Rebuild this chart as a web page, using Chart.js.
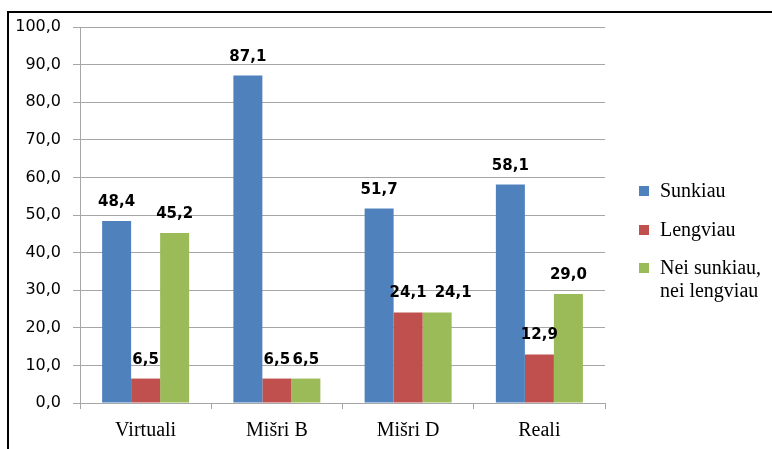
<!DOCTYPE html>
<html>
<head>
<meta charset="utf-8">
<script src="https://cdn.jsdelivr.net/npm/chart.js@4"></script>
<style>
  html, body { margin:0; padding:0; background:#fff; }
  #wrap { position:relative; width:772px; height:449px; overflow:hidden; }
  #frame { position:absolute; left:7px; top:11px; right:-10px; bottom:-10px; border-top:2px solid #000; border-left:2px solid #000; }
  canvas { position:absolute; left:0; top:0; }
  .leg { position:absolute; left:639px; font-family:'Liberation Serif', serif; font-size:20px; color:#000; line-height:23px; }
  .leg i { position:absolute; left:0; top:7px; width:10px; height:10px; }
  .leg span { display:block; margin-left:21px; }
</style>
</head>
<body>
<div id="wrap">
  <div id="frame"></div>
  <canvas id="c" width="772" height="449"></canvas>
  <div id="legend"></div>
</div>
<script>
// chart data
const categories = ['Virtuali', 'Mišri B', 'Mišri D', 'Reali'];
const seriesNames = ['Sunkiau', 'Lengviau', 'Nei sunkiau,\nnei lengviau'];
const sunkiau = [48.4, 87.1, 51.7, 58.1];
const lengviau = [6.5, 6.5, 24.1, 12.9];
const neiNei = [45.2, 6.5, 24.1, 29.0];
const colors = ['#4f81bd', '#c0504d', '#9bbb59'];

function fmt(v){ return v.toFixed(1).replace('.', ','); }

// value labels over bars, pushed right when two labels in a group collide
const barLabels = {
  id: 'barLabels',
  afterDatasetsDraw(chart){
    const ctx = chart.ctx;
    ctx.save();
    ctx.font = 'bold 15px "DejaVu Sans"';
    ctx.fillStyle = '#000';
    ctx.textAlign = 'center';
    ctx.textBaseline = 'alphabetic';
    const n = chart.data.labels.length;
    for(let j=0;j<n;j++){
      let prev = null;
      chart.data.datasets.forEach((ds, i)=>{
        const bar = chart.getDatasetMeta(i).data[j];
        const txt = fmt(ds.data[j]);
        const w = ctx.measureText(txt).width;
        const y = bar.y - 15;
        let x = bar.x;
        if(prev && Math.abs(prev.y - y) < 16 && x - w/2 < prev.right){
          x = prev.right + 8 + w/2;
        }
        ctx.fillText(txt, x, y);
        prev = { right: x + w/2, y: y };
      });
    }
    ctx.restore();
  }
};

new Chart(document.getElementById('c'), {
  type: 'bar',
  data: {
    labels: categories,
    datasets: [
      { label: seriesNames[0], data: sunkiau, backgroundColor: colors[0] },
      { label: seriesNames[1], data: lengviau, backgroundColor: colors[1] },
      { label: seriesNames[2], data: neiNei, backgroundColor: colors[2] }
    ]
  },
  options: {
    responsive: false,
    animation: false,
    layout: { padding: { top: 27, right: 167, left: 0, bottom: 0 } },
    datasets: { bar: { categoryPercentage: 0.663, barPercentage: 1 } },
    plugins: { legend: { display: false }, tooltip: { enabled: false } },
    scales: {
      y: {
        min: 0, max: 100,
        afterFit: s => { s.width = 80; },
        ticks: { stepSize: 10, padding: 12, color: '#000', font: { family: 'DejaVu Sans', size: 16 }, callback: v => fmt(v) },
        grid: { color: '#a6a6a6', tickLength: 7 },
        border: { color: '#a6a6a6' }
      },
      x: {
        afterFit: s => { s.height = 46; },
        ticks: { padding: 10, color: '#000', font: { family: 'Liberation Serif', size: 20 } },
        grid: { drawOnChartArea: false, color: '#a6a6a6', tickLength: 6 },
        border: { color: '#a6a6a6' }
      }
    }
  },
  plugins: [barLabels]
});

// legend (html, multi-line label)
const legendTops = [179, 218, 256];
const legend = document.getElementById('legend');
seriesNames.forEach((name, i)=>{
  const d = document.createElement('div');
  d.className = 'leg';
  d.style.top = legendTops[i] + 'px';
  d.innerHTML = '<i style="background:' + colors[i] + '"></i>' +
    name.split('\n').map(t => '<span>' + t + '</span>').join('');
  legend.appendChild(d);
});
</script>
</body>
</html>
